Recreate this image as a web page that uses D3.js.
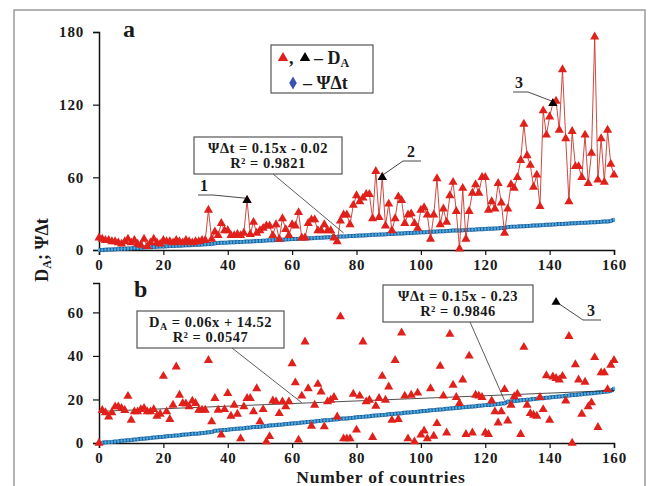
<!DOCTYPE html>
<html>
<head>
<meta charset="utf-8">
<script src="https://cdn.jsdelivr.net/npm/d3@7"></script>
<style>
  body { margin: 0; background: #fff; }
  text { font-family: "Liberation Serif", "Times New Roman", serif; font-weight: bold; fill: #1a1a1a; }
</style>
</head>
<body>
<svg id="chart" width="649" height="486"></svg>
<script>
// D_A, panel a (values by country number 0..160, connected line)
var daTop = [
  10, 9, 8, 8, 7, 7, 6, 5, 7, 9,
  6, 8, 5, 4, 9, 3, 6, 9, 6, 5,
  8, 7, 7, 6, 8, 7, 6, 8, 7, 6,
  7, 7, 8, 8, 33, 9, 15, 12, 22, 16,
  16, 12, 12, 13, 12, 14, 41, 13, 23, 14,
  16, 18, 20, 20, 12, 21, 9, 26, 17, 12,
  21, 20, 31, 10, 10, 22, 25, 25, 16, 16,
  21, 16, 16, 10, 7, 24, 29, 29, 21, 37,
  45, 40, 43, 46, 46, 26, 65, 27, 60, 20,
  38, 16, 26, 44, 41, 22, 29, 30, 22, 18,
  33, 35, 29, 9, 29, 59, 21, 34, 23, 45,
  56, 32, 1, 51, 9, 32, 47, 54, 47, 60,
  60, 33, 40, 34, 55, 39, 14, 34, 54, 51,
  60, 74, 104, 78, 70, 52, 62, 36, 115, 95,
  110, 121, 123, 99, 149, 92, 40, 98, 69, 69,
  60, 95, 55, 80, 176, 58, 92, 56, 99, 71, 62
];

// D_A, panel b (scatter)
var daBottom = [
  0, 15, 14, 12, 14, 16.7, 16.7, 16, 15, 21.5,
  10.5, 14.4, 14.4, 15.4, 16, 14.4, 14.4, 15.4, 12.4, 13.3,
  30.7, 14.4, 10.9, 17.4, 35, 22, 18.2, 18, 16.7, 19.3,
  18.2, 15.1, 15.1, 15.1, 38, 9.8, 20.5, 15.1, 3.7, 15.4,
  22.8, 12.4, 17.4, 13.3, 2, 16.7, 20.5, 20.5, 14.4, 25,
  9.8, 15.4, 0.6, 3, 19.4, 19, 13.6, 19, 16.7, 19,
  36.5, 27.7, 1.4, 21.6, 46.5, 25, 7.8, 17.4, 27, 23.5,
  7.5, 19, 19.7, 21, 12, 58, 2, 2, 2, 22.5,
  6, 21.6, 46.5, 19, 19.7, 2.6, 17, 20.5, 30.7, 19.7,
  25.8, 10.5, 38, 10.9, 50.6, 21.6, 2, 22, 0.6, 23,
  3.7, 5.6, 2, 25, 3.2, 9, 35.3, 21.6, 4.7, 50,
  26.6, 21, 18.2, 29, 4, 40, 4.7, 22, 21.6, 21,
  4.7, 4, 19.4, 14.4, 9.3, 14.4, 24.6, 10.2, 17.4, 21.3,
  22.5, 4, 44, 17.4, 13.6, 12.8, 12.4, 21, 15.4, 31,
  10.5, 30.4, 29.7, 29, 30.7, 19.4, 49, 0, 36, 29,
  13.3, 28, 16.7, 18.5, 39.3, 7.2, 32.3, 32.3, 24.6, 35.8, 38
];

// Psi*Delta t, same in both panels
var psi = [
  0.0, 0.1, 0.3, 0.4, 0.5, 0.7, 0.8, 1.0, 1.1, 1.3,
  1.4, 1.6, 1.7, 1.9, 2.0, 2.2, 2.3, 2.5, 2.6, 2.8,
  2.9, 3.1, 3.2, 3.3, 3.5, 3.6, 3.8, 3.9, 4.0, 4.2,
  4.3, 4.4, 4.6, 4.7, 4.9, 5.0, 5.6, 5.7, 5.9, 6.0,
  6.1, 6.3, 6.4, 6.6, 6.7, 6.8, 7.0, 7.1, 7.3, 7.4,
  7.5, 7.7, 7.8, 8.0, 8.1, 8.3, 8.4, 8.5, 8.7, 8.8,
  9.0, 9.1, 9.2, 9.4, 9.5, 9.7, 9.8, 9.9, 10.1, 10.2,
  10.4, 10.5, 10.6, 10.8, 10.9, 11.1, 11.2, 11.3, 11.5, 11.6,
  11.8, 11.9, 12.0, 12.2, 12.3, 12.5, 12.6, 12.7, 12.9, 13.0,
  13.2, 13.3, 13.4, 13.6, 13.7, 13.9, 14.0, 14.1, 14.3, 14.4,
  14.6, 14.7, 14.8, 15.0, 15.1, 15.3, 15.4, 15.5, 15.7, 15.8,
  16.0, 16.1, 16.2, 16.4, 16.5, 16.7, 16.8, 16.9, 17.1, 17.2,
  17.4, 17.5, 17.6, 17.8, 17.9, 18.1, 18.2, 19.0, 19.1, 19.3,
  19.4, 19.6, 19.7, 19.9, 20.0, 20.2, 20.3, 20.5, 20.6, 20.8,
  20.9, 21.1, 21.2, 21.4, 21.5, 21.7, 21.8, 22.0, 22.1, 22.3,
  22.4, 22.6, 22.7, 22.9, 23.0, 23.2, 23.3, 23.5, 23.6, 23.9, 25.0
];

// numbered (black) points in panel a, and the extra one in panel b
var marked = [{n: "1", i: 46}, {n: "2", i: 88}, {n: "3", i: 141}];
var markedBottom = [{n: "3", x: 142, y: 64.7}];

// fitted trends
var trendPsiTop = {a: 0.15, b: -0.02, r2: "0.9821"};
var trendDaBottom = {a: 0.06, b: 14.52, r2: "0.0547"};
var trendPsiBottom = {a: 0.15, b: -0.23, r2: "0.9846"};

var xTicks = [0, 20, 40, 60, 80, 100, 120, 140, 160];
var yTicksTop = [0, 60, 120, 180];
var yTicksBottom = [0, 20, 40, 60];

var svg = d3.select("#chart");
var red = "#e0201a", redLine = "#c8342c", blueDark = "#1d5a93", blueLight = "#49a6dc";

// outer frame
svg.append("rect").attr("x", 14).attr("y", 10).attr("width", 631).attr("height", 490)
  .attr("fill", "none").attr("stroke", "#9a9a9a").attr("stroke-width", 1.5);

var x = d3.scaleLinear().domain([0, 160]).range([99, 614]);
var yTop = d3.scaleLinear().domain([0, 180]).range([250, 32]);
var yBot = d3.scaleLinear().domain([0, 73.5]).range([443, 283]);

var tri = d3.symbol().type(d3.symbolTriangle).size(36);
var dia = d3.symbol().type(d3.symbolDiamond).size(7);

function drawAxes(y, yMajor, yMinorStep, yMax) {
  var bottom = y(0);
  var gx = svg.append("g").attr("transform", "translate(0," + bottom + ")");
  gx.call(d3.axisBottom(x).tickValues(d3.range(0, 161, 4)).tickSize(4).tickFormat(""));
  gx.call(d3.axisBottom(x).tickValues(xTicks).tickSize(5).tickPadding(4).tickFormat(d3.format("d")));
  gx.selectAll("text").attr("font-size", 15).attr("letter-spacing", 0.8).attr("fill", "#1a1a1a");
  var gy = svg.append("g").attr("transform", "translate(" + x(0) + ",0)");
  gy.call(d3.axisLeft(y).tickValues(d3.range(0, yMax + 0.01, yMinorStep)).tickSize(4).tickFormat(""));
  gy.call(d3.axisLeft(y).tickValues(yMajor).tickSize(6).tickPadding(9).tickFormat(d3.format("d")));
  gy.selectAll("text").attr("font-size", 15).attr("letter-spacing", 0.8).attr("fill", "#1a1a1a");
  svg.selectAll(".domain").attr("stroke", "#111").attr("stroke-width", 1.5);
  svg.selectAll(".tick line").attr("stroke", "#111").attr("stroke-width", 1.2);
}

function drawPsi(y, trend) {
  svg.append("line")
    .attr("x1", x(0)).attr("y1", y(trend.a * 0 + trend.b))
    .attr("x2", x(160)).attr("y2", y(trend.a * 160 + trend.b))
    .attr("stroke", "#222").attr("stroke-width", 0.8);
  svg.append("path").datum(psi)
    .attr("d", d3.line().x(function(d, i) { return x(i); }).y(function(d) { return y(d); }))
    .attr("fill", "none").attr("stroke", blueDark).attr("stroke-width", 4);
  svg.append("g").selectAll("path").data(psi).join("path")
    .attr("transform", function(d, i) { return "translate(" + x(i) + "," + y(d) + ")"; })
    .attr("d", dia).attr("fill", blueLight);
}

function boxLabel(x0, y0, w, h, lines) {
  svg.append("rect").attr("x", x0).attr("y", y0).attr("width", w).attr("height", h)
    .attr("fill", "#fff").attr("stroke", "#555").attr("stroke-width", 1.2);
  lines.forEach(function(l, k) {
    var t = svg.append("text").attr("x", x0 + w / 2).attr("y", y0 + 16 + k * 15)
      .attr("text-anchor", "middle").attr("font-size", 14.5).attr("letter-spacing", 0.5);
    l.forEach(function(p) {
      var s = t.append("tspan").text(p.t);
      if (p.sub) s.attr("font-size", 10).attr("dy", 3);
      if (p.after) s.attr("dy", -3);
    });
  });
}

function numberLabel(tx, ty, px, py, n, leftSide) {
  var ux0 = leftSide ? tx - 6 : tx - 8, ux1 = leftSide ? tx + 9 : tx + 10;
  svg.append("text").attr("x", tx).attr("y", ty).attr("font-size", 16).attr("text-anchor", "middle").text(n);
  var sx = leftSide ? ux1 : ux0;
  svg.append("path")
    .attr("d", "M" + ux0 + "," + (ty + 4) + "L" + ux1 + "," + (ty + 4) + "M" + sx + "," + (ty + 4) + "L" + px + "," + py)
    .attr("fill", "none").attr("stroke", "#333").attr("stroke-width", 0.9);
}

// ---------- panel a ----------
drawAxes(yTop, yTicksTop, 12, 180);
drawPsi(yTop, trendPsiTop);

svg.append("path").datum(daTop)
  .attr("d", d3.line().x(function(d, i) { return x(i); }).y(function(d) { return yTop(d); }))
  .attr("fill", "none").attr("stroke", redLine).attr("stroke-width", 0.9);
svg.append("g").selectAll("path").data(daTop).join("path")
  .attr("transform", function(d, i) { return "translate(" + x(i) + "," + yTop(d) + ")"; })
  .attr("d", tri).attr("fill", red);

// equation box + leader
svg.append("line").attr("x1", 273).attr("y1", 174).attr("x2", x(76)).attr("y2", yTop(14))
  .attr("stroke", "#333").attr("stroke-width", 0.8);
boxLabel(194, 137, 148, 37, [
  [{t: "\u03A8\u0394t = " + trendPsiTop.a.toFixed(2) + "x - " + Math.abs(trendPsiTop.b).toFixed(2)}],
  [{t: "R\u00B2 = " + trendPsiTop.r2}]
]);

// numbered points
var lab = {"1": [204, 191, true], "2": [411, 157, false], "3": [519, 88, true]};
marked.forEach(function(m) {
  var px = x(m.i), py = yTop(daTop[m.i]);
  var L = lab[m.n];
  numberLabel(L[0], L[1], px, py - 2, m.n, L[2]);
  svg.append("path").attr("transform", "translate(" + px + "," + py + ")").attr("d", tri).attr("fill", "#000");
});

// legend
var triBig = d3.symbol().type(d3.symbolTriangle).size(48);
svg.append("rect").attr("x", 271).attr("y", 45).attr("width", 102).attr("height", 48)
  .attr("fill", "#fff").attr("stroke", "#555").attr("stroke-width", 1.2);
svg.append("path").attr("transform", "translate(283,58)").attr("d", triBig).attr("fill", red);
svg.append("text").attr("x", 289).attr("y", 64).attr("font-size", 18).text(",");
svg.append("path").attr("transform", "translate(305,58)").attr("d", triBig).attr("fill", "#000");
var lt = svg.append("text").attr("x", 314).attr("y", 64).attr("font-size", 18);
lt.append("tspan").text("\u2013 D");
lt.append("tspan").attr("font-size", 12).attr("dy", 3).text("A");
svg.append("path").attr("transform", "translate(293,83)").attr("d", d3.symbol().type(d3.symbolDiamond).size(50)).attr("fill", "#3b4fb5");
svg.append("text").attr("x", 303).attr("y", 89).attr("font-size", 18).text("\u2013 \u03A8\u0394t");

svg.append("text").attr("x", 123).attr("y", 37).attr("font-size", 24).text("a");

// ---------- panel b ----------
drawAxes(yBot, yTicksBottom, 2.5, 73.5);
drawPsi(yBot, trendPsiBottom);

svg.append("line")
  .attr("x1", x(0)).attr("y1", yBot(trendDaBottom.b))
  .attr("x2", x(160)).attr("y2", yBot(trendDaBottom.a * 160 + trendDaBottom.b))
  .attr("stroke", "#222").attr("stroke-width", 0.8);

svg.append("g").selectAll("path").data(daBottom).join("path")
  .attr("transform", function(d, i) { return "translate(" + x(i) + "," + yBot(d) + ")"; })
  .attr("d", tri).attr("fill", red);

svg.append("line").attr("x1", 232).attr("y1", 348).attr("x2", x(63)).attr("y2", yBot(18.5))
  .attr("stroke", "#333").attr("stroke-width", 0.8);
boxLabel(137, 311, 147, 37, [
  [{t: "D"}, {t: "A", sub: true}, {t: " = " + trendDaBottom.a.toFixed(2) + "x + " + trendDaBottom.b.toFixed(2), after: true}],
  [{t: "R\u00B2 = " + trendDaBottom.r2}]
]);

svg.append("line").attr("x1", 470).attr("y1", 322).attr("x2", x(126)).attr("y2", yBot(19.5))
  .attr("stroke", "#333").attr("stroke-width", 0.8);
boxLabel(383, 285, 150, 37, [
  [{t: "\u03A8\u0394t = " + trendPsiBottom.a.toFixed(2) + "x - " + Math.abs(trendPsiBottom.b).toFixed(2)}],
  [{t: "R\u00B2 = " + trendPsiBottom.r2}]
]);

markedBottom.forEach(function(m) {
  var px = x(m.x), py = yBot(m.y);
  numberLabel(591, 316, px + 2, py + 1, m.n, false);
  svg.append("path").attr("transform", "translate(" + px + "," + py + ")").attr("d", tri).attr("fill", "#000");
});

svg.append("text").attr("x", 134).attr("y", 297).attr("font-size", 24).text("b");

// axis titles
svg.append("text").attr("x", 381).attr("y", 483).attr("text-anchor", "middle").attr("font-size", 17.5)
  .attr("letter-spacing", 0.8).text("Number of countries");
var yt = svg.append("text").attr("transform", "translate(48,250) rotate(-90)")
  .attr("text-anchor", "middle").attr("font-size", 18);
yt.append("tspan").text("D");
yt.append("tspan").attr("font-size", 12).attr("dy", 3).text("A");
yt.append("tspan").attr("dy", -3).text("; \u03A8\u0394t");
</script>
</body>
</html>
